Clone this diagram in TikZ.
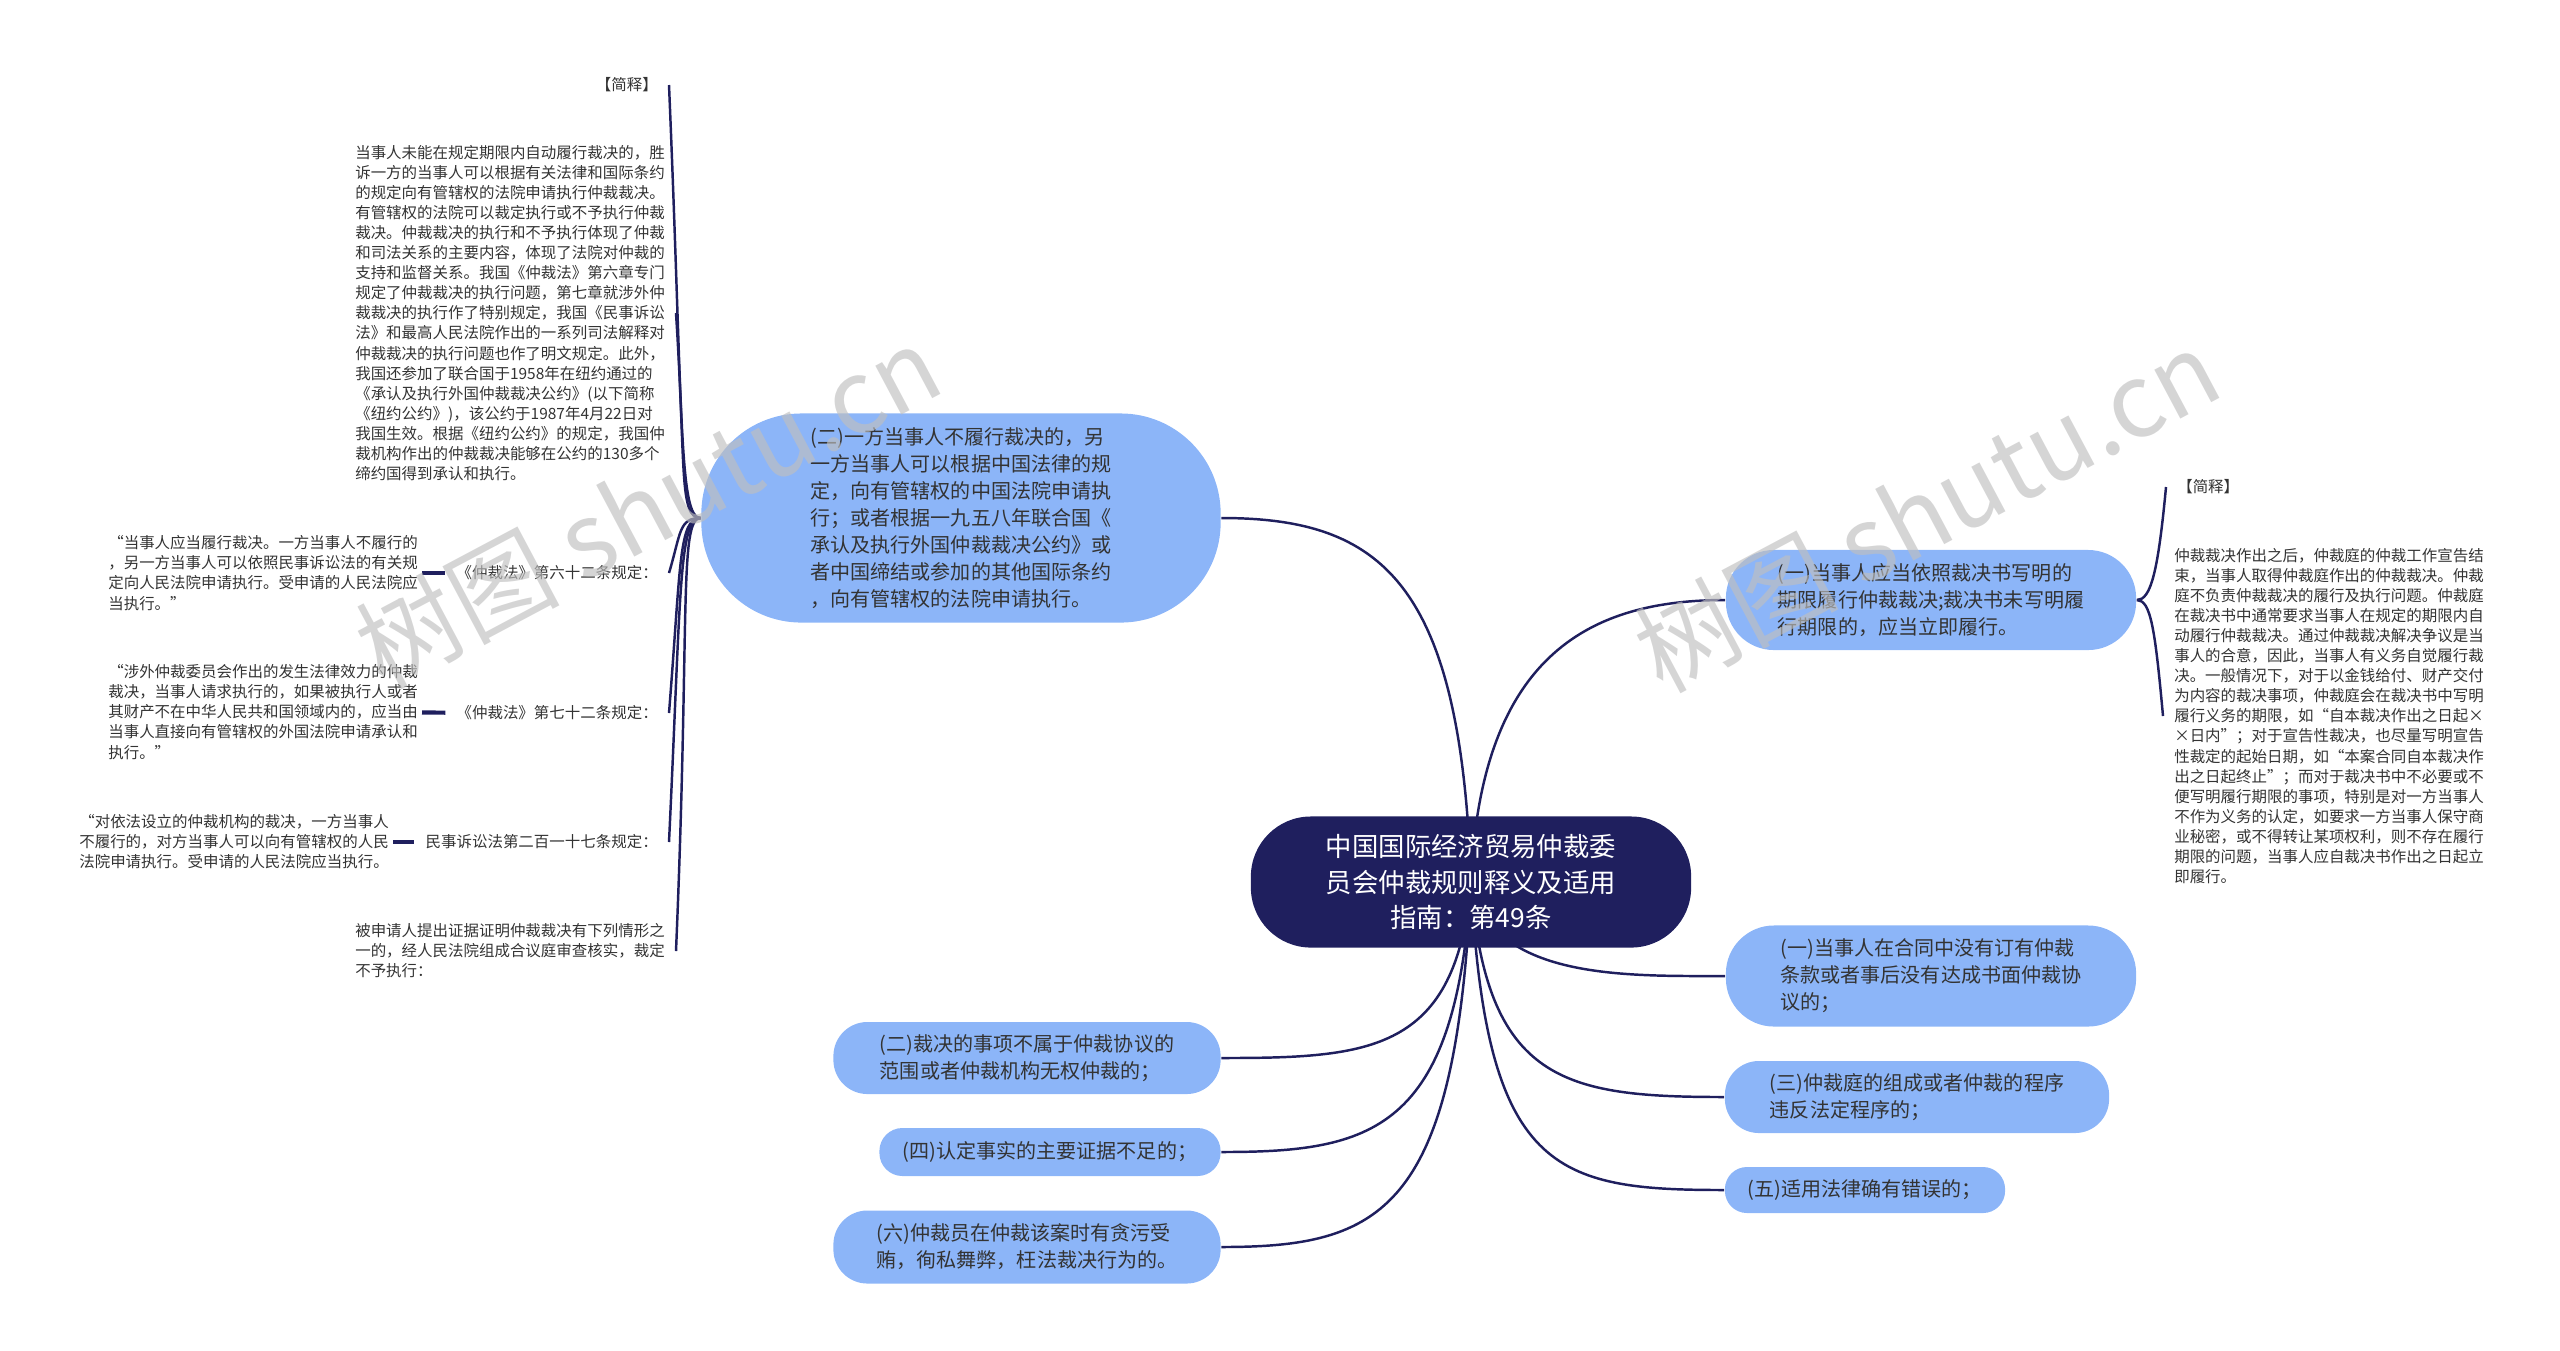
\documentclass[tikz,border=0pt]{standalone}
\usepackage{fontspec}
\newfontfamily\cjk{Noto Sans CJK SC}
\usetikzlibrary{backgrounds}
\definecolor{navy}{HTML}{1F1F5E}
\definecolor{leaf}{HTML}{8CB5F8}
\definecolor{ink}{HTML}{333333}

\begin{document}
\begin{tikzpicture}[x=0.01cm, y=-0.01cm,
  root/.style={fill=navy, text=white, rounded corners=0.6cm, minimum width=4.4cm, minimum height=1.31cm, align=center, font=\cjk\fontsize{7.5}{10}\selectfont},
  sub/.style={fill=leaf, text=ink, align=left, inner sep=0pt, font=\cjk\fontsize{5.7}{7.7}\selectfont},
  note/.style={text=ink, align=left, inner xsep=3pt, inner ysep=0pt, font=\cjk\fontsize{4.4}{5.7}\selectfont},
  quote/.style={note, inner xsep=1pt},
  link/.style={draw=navy, line width=0.7pt},
  quoteline/.style={draw=navy, line width=1.2pt},
  watermark/.style={text=black!25, opacity=0.65, font=\cjk\fontsize{29}{29}\selectfont}]
\useasboundingbox (0,0) rectangle (2560,1350);

% 中心主题
\node[root] (main) at (1471,882) {中国国际经济贸易仲裁委\\员会仲裁规则释义及适用\\指南：第49条};

% 左侧分支
\node[sub, minimum width=5.19cm, minimum height=2.09cm, rounded corners=1cm] (sub2) at (961,518)
  {(二)一方当事人不履行裁决的，另\\一方当事人可以根据中国法律的规\\定，向有管辖权的中国法院申请执\\行；或者根据一九五八年联合国《\\承认及执行外国仲裁裁决公约》或\\者中国缔结或参加的其他国际条约\\，向有管辖权的法院申请执行。};
\node[sub, minimum width=3.87cm, minimum height=0.72cm, rounded corners=0.34cm] (no2) at (1027,1058)
  {(二)裁决的事项不属于仲裁协议的\\范围或者仲裁机构无权仲裁的；};
\node[sub, minimum width=3.41cm, minimum height=0.48cm, rounded corners=0.23cm] (no4) at (1050,1152)
  {(四)认定事实的主要证据不足的；};
\node[sub, minimum width=3.87cm, minimum height=0.73cm, rounded corners=0.34cm] (no6) at (1027,1247)
  {(六)仲裁员在仲裁该案时有贪污受\\贿，徇私舞弊，枉法裁决行为的。};

% 右侧分支
\node[sub, minimum width=4.1cm, minimum height=1.0cm, rounded corners=0.48cm] (sub1) at (1931,600)
  {(一)当事人应当依照裁决书写明的\\期限履行仲裁裁决;裁决书未写明履\\行期限的，应当立即履行。};
\node[sub, minimum width=4.1cm, minimum height=1.01cm, rounded corners=0.48cm] (no1) at (1931,976)
  {(一)当事人在合同中没有订有仲裁\\条款或者事后没有达成书面仲裁协\\议的；};
\node[sub, minimum width=3.84cm, minimum height=0.72cm, rounded corners=0.34cm] (no3) at (1917,1097)
  {(三)仲裁庭的组成或者仲裁的程序\\违反法定程序的；};
\node[sub, minimum width=2.8cm, minimum height=0.46cm, rounded corners=0.22cm] (no5) at (1865,1190)
  {(五)适用法律确有错误的；};

% 左侧注释
\node[note, anchor=east] (jsL) at (669,85) {【简释】};
\node[note, anchor=east] (expL) at (676,313)
  {当事人未能在规定期限内自动履行裁决的，胜\\诉一方的当事人可以根据有关法律和国际条约\\的规定向有管辖权的法院申请执行仲裁裁决。\\有管辖权的法院可以裁定执行或不予执行仲裁\\裁决。仲裁裁决的执行和不予执行体现了仲裁\\和司法关系的主要内容，体现了法院对仲裁的\\支持和监督关系。我国《仲裁法》第六章专门\\规定了仲裁裁决的执行问题，第七章就涉外仲\\裁裁决的执行作了特别规定，我国《民事诉讼\\法》和最高人民法院作出的一系列司法解释对\\仲裁裁决的执行问题也作了明文规定。此外，\\我国还参加了联合国于1958年在纽约通过的\\《承认及执行外国仲裁裁决公约》(以下简称\\《纽约公约》)，该公约于1987年4月22日对\\我国生效。根据《纽约公约》的规定，我国仲\\裁机构作出的仲裁裁决能够在公约的130多个\\缔约国得到承认和执行。};
\node[note, anchor=east] (law62) at (669,573) {《仲裁法》第六十二条规定：};
\node[quote, anchor=east] (q62) at (422,573)
  {“当事人应当履行裁决。一方当事人不履行的\\，另一方当事人可以依照民事诉讼法的有关规\\定向人民法院申请执行。受申请的人民法院应\\当执行。”};
\node[note, anchor=east] (law72) at (669,713) {《仲裁法》第七十二条规定：};
\node[quote, anchor=east] (q72) at (422,712)
  {“涉外仲裁委员会作出的发生法律效力的仲裁\\裁决，当事人请求执行的，如果被执行人或者\\其财产不在中华人民共和国领域内的，应当由\\当事人直接向有管辖权的外国法院申请承认和\\执行。”};
\node[note, anchor=east] (law217) at (669,842) {民事诉讼法第二百一十七条规定：};
\node[quote, anchor=east] (q217) at (393,842)
  {“对依法设立的仲裁机构的裁决，一方当事人\\不履行的，对方当事人可以向有管辖权的人民\\法院申请执行。受申请的人民法院应当执行。};
\node[note, anchor=east] (bei) at (676,951)
  {被申请人提出证据证明仲裁裁决有下列情形之\\一的，经人民法院组成合议庭审查核实，裁定\\不予执行：};

% 右侧注释
\node[note, anchor=west] (jsR) at (2166,487) {【简释】};
\node[note, anchor=west] (expR) at (2163,716)
  {仲裁裁决作出之后，仲裁庭的仲裁工作宣告结\\束，当事人取得仲裁庭作出的仲裁裁决。仲裁\\庭不负责仲裁裁决的履行及执行问题。仲裁庭\\在裁决书中通常要求当事人在规定的期限内自\\动履行仲裁裁决。通过仲裁裁决解决争议是当\\事人的合意，因此，当事人有义务自觉履行裁\\决。一般情况下，对于以金钱给付、财产交付\\为内容的裁决事项，仲裁庭会在裁决书中写明\\履行义务的期限，如“自本裁决作出之日起×\\×日内”；对于宣告性裁决，也尽量写明宣告\\性裁定的起始日期，如“本案合同自本裁决作\\出之日起终止”；而对于裁决书中不必要或不\\便写明履行期限的事项，特别是对一方当事人\\不作为义务的认定，如要求一方当事人保守商\\业秘密，或不得转让某项权利，则不存在履行\\期限的问题，当事人应自裁决书作出之日起立\\即履行。};

% 连线
\begin{scope}[on background layer]
  \draw[link] (main.center) .. controls +(-10,-300) and +(160,0) .. (sub2.east);
  \draw[link] (main.center) .. controls +(10,-232) and +(-130,0) .. (sub1.west);
  \draw[link] (main.center) .. controls +(20,98) and +(-100,0) .. (no1.west);
  \draw[link] (main.center) .. controls +(15,200) and +(-160,0) .. (no3.west);
  \draw[link] (main.center) .. controls +(15,290) and +(-170,0) .. (no5.west);
  \draw[link] (main.center) .. controls +(-15,170) and +(150,0) .. (no2.east);
  \draw[link] (main.center) .. controls +(-15,250) and +(150,0) .. (no4.east);
  \draw[link] (main.center) .. controls +(-15,330) and +(160,0) .. (no6.east);
  % 左括号
  \draw[link] (sub2.west) .. controls +(-22,0) and +(14,330) .. (jsL.east);
  \draw[link] (sub2.west) .. controls +(-22,0) and +(10,155) .. (expL.east);
  \draw[link] (sub2.west) .. controls +(-22,0) and +(12,-40) .. (law62.east);
  \draw[link] (sub2.west) .. controls +(-22,0) and +(12,-150) .. (law72.east);
  \draw[link] (sub2.west) .. controls +(-22,0) and +(12,-250) .. (law217.east);
  \draw[link] (sub2.west) .. controls +(-22,0) and +(14,-330) .. (bei.east);
  % 右括号
  \draw[link] (sub1.east) .. controls +(14,0) and +(-8,85) .. (jsR.west);
  \draw[link] (sub1.east) .. controls +(14,0) and +(-8,-87) .. (expR.west);
\end{scope}
\draw[quoteline] (q62) -- (law62);
\draw[quoteline] (q72) -- (law72);
\draw[quoteline] (q217) -- (law217);

% 水印
\node[watermark, rotate=28] (wm1) at (648,506) {树图 shutu.cn};
\node[watermark, rotate=28] (wm2) at (1927,510) {树图 shutu.cn};
\end{tikzpicture}
\end{document}
